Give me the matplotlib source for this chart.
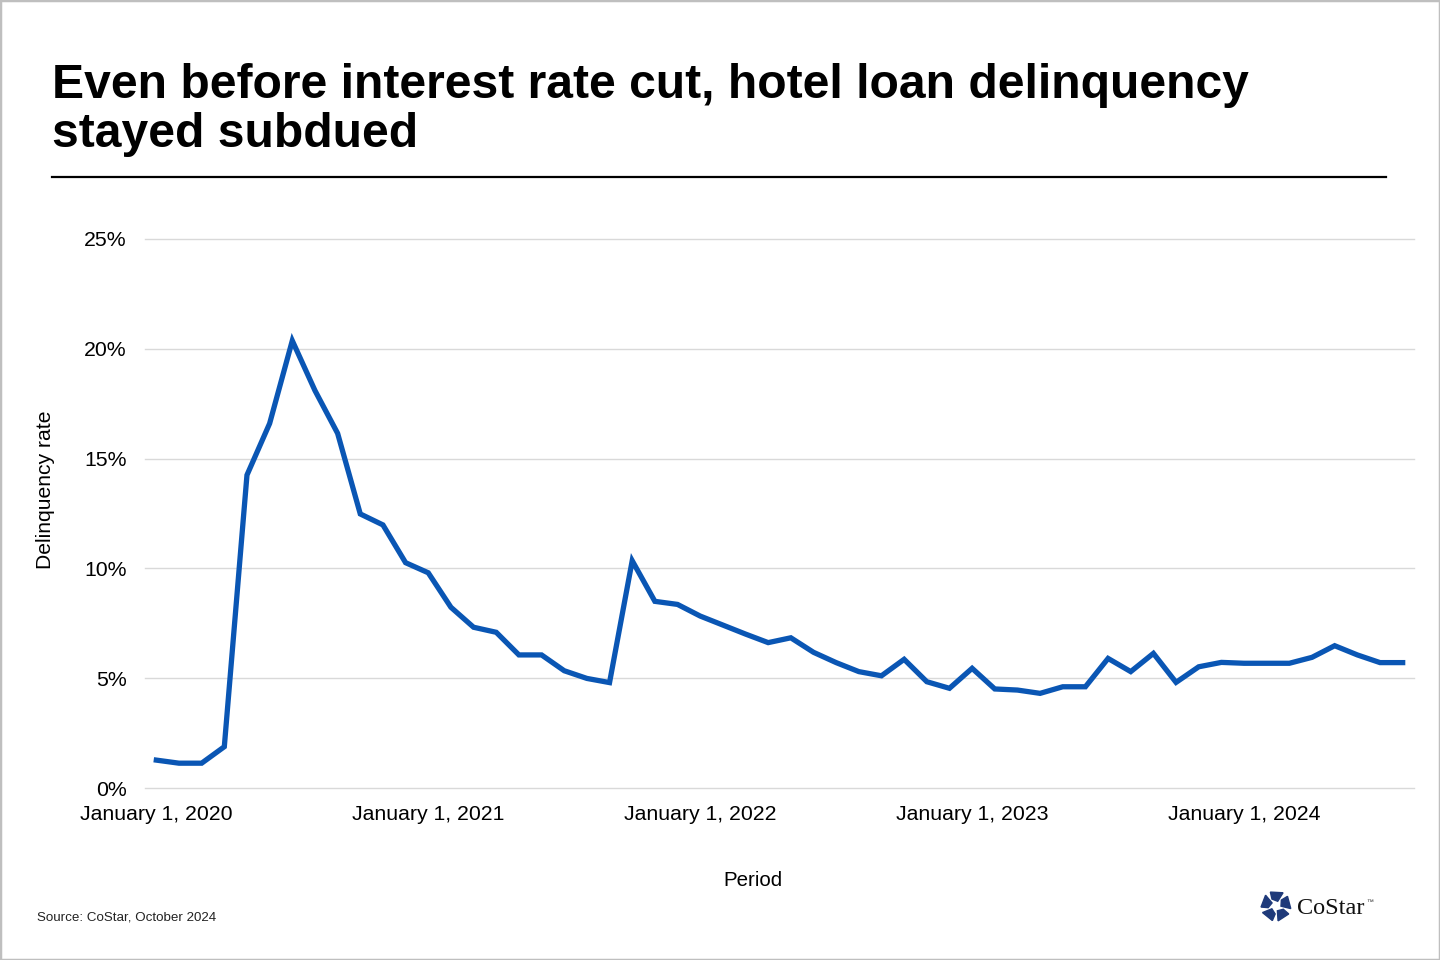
import matplotlib.pyplot as plt
import numpy as np
from matplotlib.patches import Polygon, Rectangle

# monthly hotel loan delinquency rate, Jan 2020 - Aug 2024 (%)
rate = [1.27, 1.13, 1.13, 1.88, 14.25, 16.6, 20.37, 18.1, 16.15, 12.48,
        11.98, 10.26, 9.8, 8.23, 7.32, 7.09, 6.06, 6.06, 5.34, 4.99,
        4.8, 10.35, 8.5, 8.36, 7.83, 7.42, 7.01, 6.62, 6.84, 6.18,
        5.71, 5.3, 5.11, 5.86, 4.84, 4.54, 5.45, 4.51, 4.46, 4.31,
        4.61, 4.61, 5.9, 5.3, 6.13, 4.81, 5.52, 5.72, 5.68, 5.68,
        5.68, 5.95, 6.48, 6.06, 5.71, 5.71]
tick_pos = [0, 12, 24, 36, 48]
tick_labels = ['January 1, 2020', 'January 1, 2021', 'January 1, 2022',
               'January 1, 2023', 'January 1, 2024']
y_ticks = [0, 5, 10, 15, 20, 25]

W, H = 1440, 960
plt.rcParams['font.family'] = ['Liberation Sans', 'DejaVu Sans']

fig = plt.figure(figsize=(W / 100, H / 100), dpi=100)


def fx(px):
    return px / W


def fy(py):
    return 1 - py / H


ax = fig.add_axes([fx(145), fy(788), fx(1414) - fx(145), fy(239) - fy(788)])
months = np.arange(len(rate))
ax.plot(months, rate, color='#0A56B4', lw=3.8, solid_joinstyle='miter')
ax.set_xlim(-0.5, len(rate) - 0.5)
ax.set_ylim(0, 25)
ax.set_yticks(y_ticks)
ax.set_yticklabels(['{}%'.format(v) for v in y_ticks])
ax.set_xticks(tick_pos)
ax.set_xticklabels(tick_labels)
ax.grid(axis='y', color='#D9D9D9', lw=1)
for gl in ax.get_ygridlines():
    gl.set_clip_on(False)
ax.set_axisbelow(True)
for s in ax.spines.values():
    s.set_visible(False)
ax.tick_params(axis='both', length=0, labelsize=15.3, colors='black')
ax.tick_params(axis='y', pad=13)
ax.tick_params(axis='x', pad=12)

fig.text(fx(52), fy(110), 'Even before interest rate cut, hotel loan delinquency\nstayed subdued',
         fontsize=34.6, fontweight='bold', va='center', ha='left', linespacing=1.14)
fig.add_artist(plt.Line2D([fx(52), fx(1386)], [fy(177), fy(177)], color='black', lw=1.6))

fig.text(fx(46), fy(490), 'Delinquency rate', rotation=90, fontsize=15.2, ha='center', va='center')
fig.text(fx(753), fy(880), 'Period', fontsize=14.8, ha='center', va='center')
fig.text(fx(37), fy(917), 'Source: CoStar, October 2024', fontsize=9.6, ha='left', va='center', color='#222222')

# CoStar logo
cx, cy = 1276, 906
for k in range(5):
    a = np.deg2rad(90 + 72 * k)
    pts = []
    for r, da in [(5, -20), (15, -28), (15, 22), (8, 30)]:
        ang = a + np.deg2rad(da)
        pts.append((fx(cx + r * np.cos(ang)), fy(cy - r * np.sin(ang))))
    fig.add_artist(Polygon(pts, closed=True, color='#1F3A7A', transform=fig.transFigure))
fig.text(fx(1297), fy(908), 'CoStar', family=['Liberation Serif', 'DejaVu Serif'],
         fontsize=17.5, ha='left', va='center', color='#111111')
fig.text(fx(1366), fy(903), '™', fontsize=5, ha='left', va='center', color='#333333')

fig.add_artist(Rectangle((0, 0), 1, 1, transform=fig.transFigure, fill=False,
                         edgecolor='#BFBFBF', lw=2.5))

fig.savefig('out.png', dpi=100)
